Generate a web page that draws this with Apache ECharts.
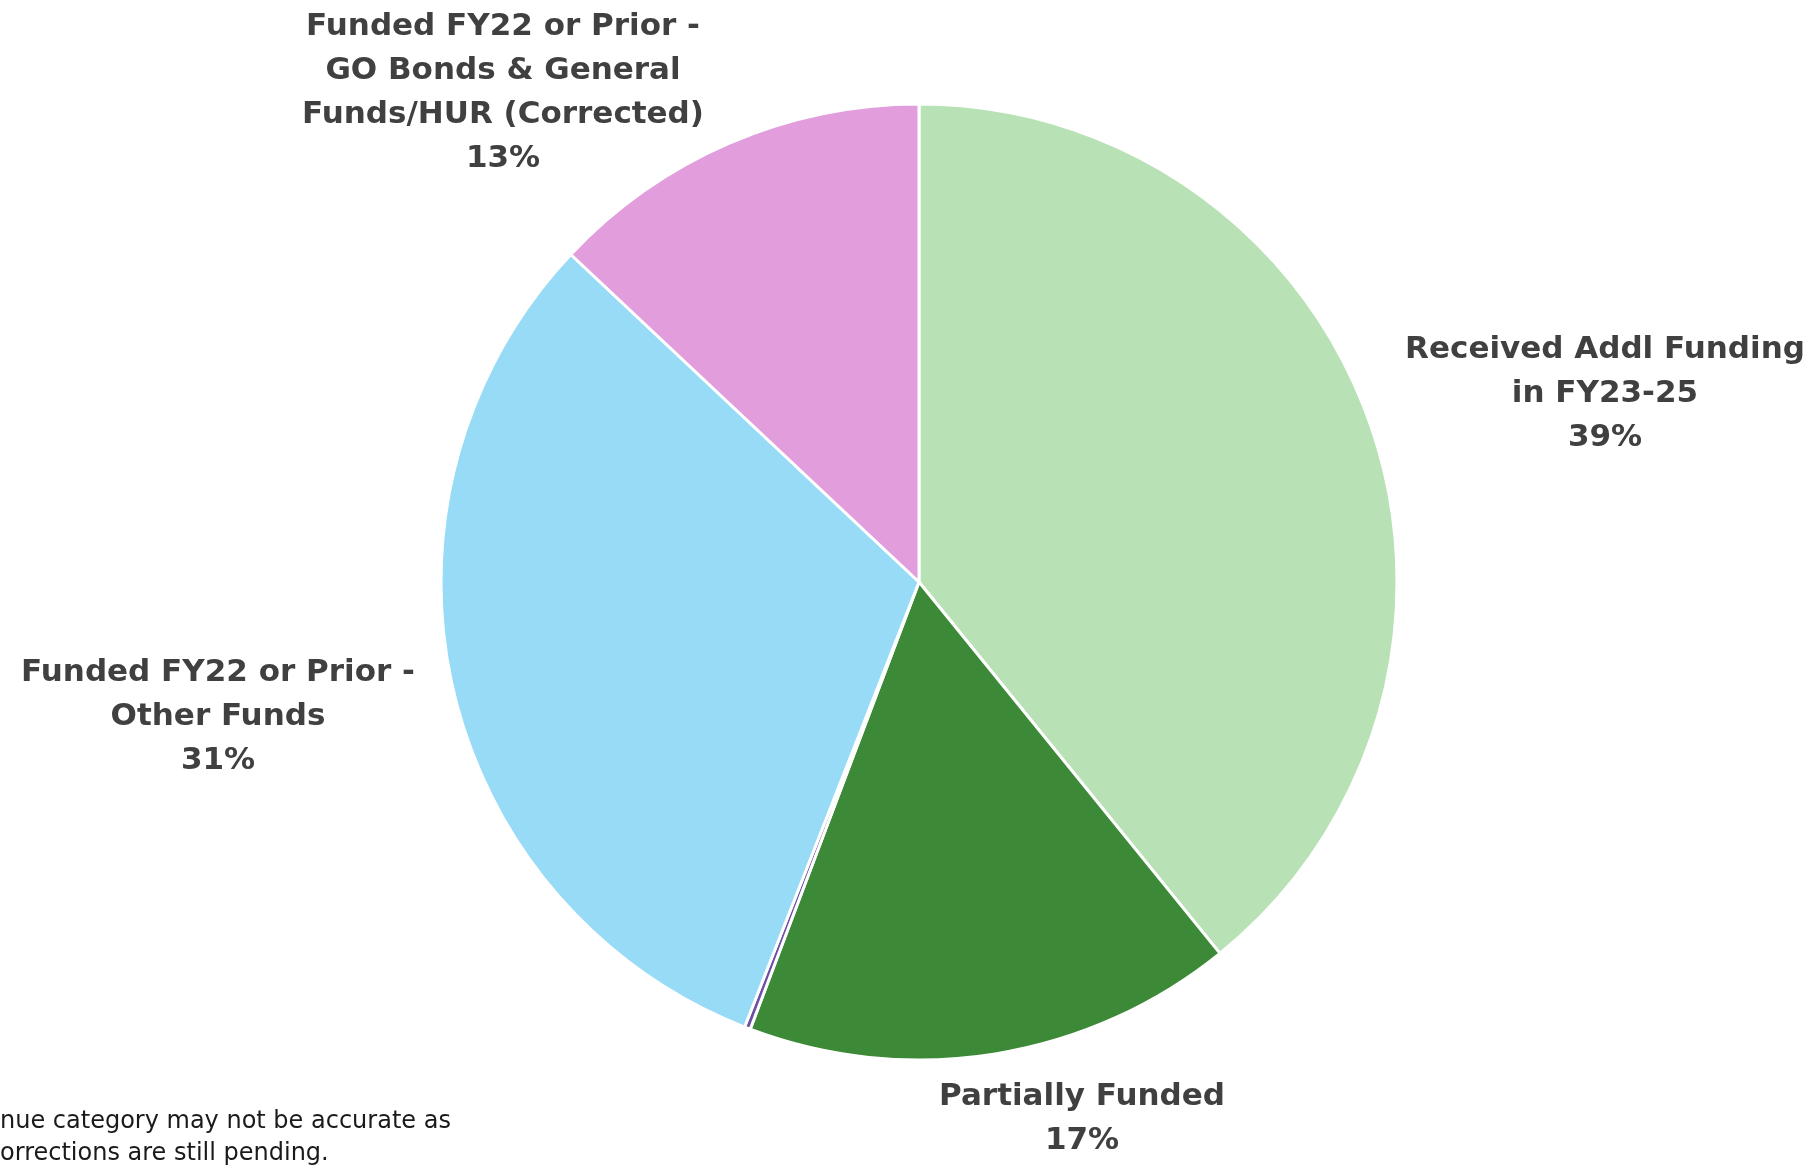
<!DOCTYPE html>
<html>
<head>
<meta charset="utf-8">
<title>Funding Status</title>
<script src="https://cdn.jsdelivr.net/npm/echarts@6/dist/echarts.min.js"></script>
<style>
  html, body { margin: 0; padding: 0; background: #ffffff; }
  #chart { width: 1818px; height: 1168px; }
</style>
</head>
<body>
<div id="chart"></div>
<script>
// Funding categories, in clockwise order starting at 12 o'clock
const categories = [
  'Received Addl Funding\nin FY23-25',
  'Partially Funded',
  'Unfunded',
  'Funded FY22 or Prior -\nOther Funds',
  'Funded FY22 or Prior -\nGO Bonds & General\nFunds/HUR (Corrected)'
];
// Share of projects (percent)
const shares = [39.2, 16.6, 0.2, 31.1, 13.0];
const colors = ['#B8E1B5', '#3C8937', '#6B4FA6', '#97DBF7', '#E29EDC'];
// Categories whose slice carries no label
const unlabeled = [false, false, true, false, false];

const footnoteLines = [
  'nue category may not be accurate as',
  'orrections are still pending.'
];

// Where each slice's label block is centred
const labelAnchors = [
  [1605, 394],
  [1082, 1119],
  [0, 0],
  [218, 717],
  [503, 93]
];

const chart = echarts.init(document.getElementById('chart'), null, { renderer: 'canvas' });

const data = categories.map((name, i) => ({
  name: name,
  value: shares[i],
  itemStyle: { color: colors[i] },
  label: { show: !unlabeled[i] }
}));

chart.setOption({
  backgroundColor: '#ffffff',
  animation: false,
  series: [{
    type: 'pie',
    center: [919, 582],
    radius: [0, 478],
    startAngle: 90,
    clockwise: true,
    avoidLabelOverlap: false,
    data: data,
    itemStyle: { borderColor: '#ffffff', borderWidth: 3 },
    label: {
      position: 'outside',
      color: '#404040',
      fontFamily: 'DejaVu Sans',
      fontWeight: 'bold',
      fontSize: 31,
      lineHeight: 44,
      align: 'center',
      formatter: p => p.name + '\n' + Math.round(p.percent) + '%'
    },
    labelLine: { show: false },
    labelLayout: p => ({
      x: labelAnchors[p.dataIndex][0],
      y: labelAnchors[p.dataIndex][1],
      align: 'center',
      verticalAlign: 'middle'
    })
  }],
  graphic: footnoteLines.map((t, i) => ({
    type: 'text',
    left: 0,
    top: 1110 + i * 32,
    style: {
      text: t,
      fill: '#1a1a1a',
      font: '24px "DejaVu Sans"'
    }
  }))
});
</script>
</body>
</html>
